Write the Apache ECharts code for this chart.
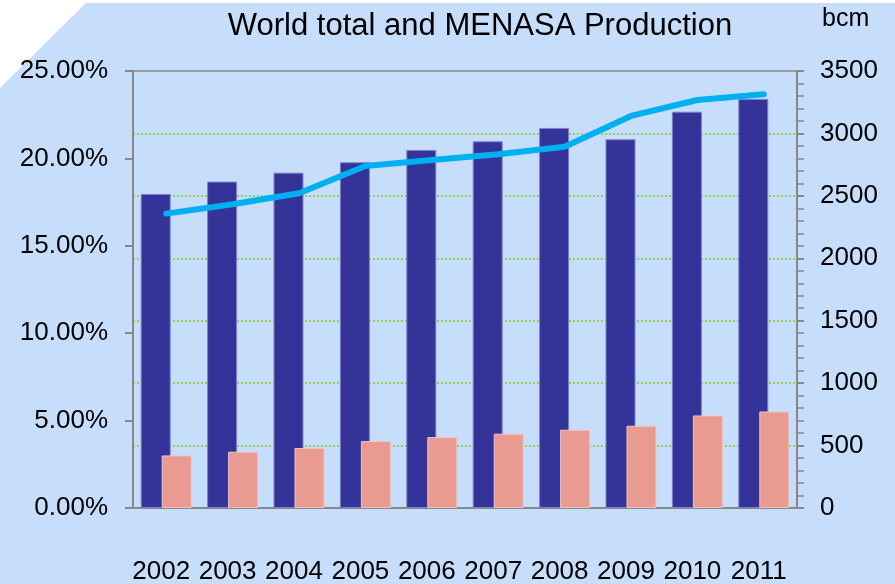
<!DOCTYPE html>
<html>
<head>
<meta charset="utf-8">
<script src="https://cdn.jsdelivr.net/npm/echarts@6/dist/echarts.min.js"></script>
<style>
html, body { margin: 0; padding: 0; background: #ffffff; }
#chart { width: 895px; height: 584px; }
</style>
</head>
<body>
<div id="chart"></div>
<script>
var years = ['2002','2003','2004','2005','2006','2007','2008','2009','2010','2011'];
// bcm, right axis
var worldTotal = [2515, 2614, 2686, 2769, 2868, 2937, 3044, 2953, 3174, 3276];
var menasa = [421, 451, 480, 536, 568, 595, 627, 659, 741, 773];
// share of MENASA in world total, left axis (%)
var share = [16.84, 17.38, 18.01, 19.57, 19.91, 20.24, 20.67, 22.43, 23.34, 23.67];

var font = 'Liberation Sans, Arial, sans-serif';
var grey = '#878787';

var myChart = echarts.init(document.getElementById('chart'));
var option = {
    animation: false,
    textStyle: {fontFamily: font},
    graphic: [
        {
            type: 'polygon',
            z: -10,
            silent: true,
            shape: {points: [[86, 3], [895, 3], [895, 584], [0, 584], [0, 88]]},
            style: {fill: '#c6ddfb'}
        },
        {
            type: 'text',
            left: 822,
            top: 7,
            style: {text: 'bcm', font: '25px ' + font, fill: '#000'}
        }
    ],
    title: {
        text: 'World total and MENASA Production',
        left: 475,
        textAlign: 'center',
        top: 6,
        textStyle: {fontSize: 31, fontWeight: 'normal', color: '#000', fontFamily: font}
    },
    grid: {
        left: 133, right: 98, top: 71, bottom: 76,
        outerBoundsMode: 'none',
        show: true, borderColor: grey, borderWidth: 1.5,
        backgroundColor: 'transparent'
    },
    xAxis: {
        type: 'category',
        data: years,
        axisLine: {lineStyle: {color: grey, width: 2}},
        axisTick: {alignWithLabel: true, length: 6, lineStyle: {color: grey, width: 2}},
        axisLabel: {color: '#000', fontSize: 26, margin: 51, interval: 0, padding: [0, 10, 0, 0]}
    },
    yAxis: [
        {
            type: 'value',
            min: 0, max: 25, interval: 5,
            axisLine: {show: true, lineStyle: {color: grey, width: 2}},
            axisTick: {show: true, length: 8, lineStyle: {color: grey, width: 2}},
            axisLabel: {
                color: '#000', fontSize: 26, margin: 25,
                formatter: function (v) { return v.toFixed(2) + '%'; }
            },
            splitLine: {show: false}
        },
        {
            type: 'value',
            min: 0, max: 3500, interval: 500,
            axisLine: {show: true, lineStyle: {color: grey, width: 2}},
            axisTick: {show: true, length: 7, lineStyle: {color: grey, width: 2}},
            minorTick: {show: true, splitNumber: 5, length: 7, lineStyle: {color: grey, width: 1.5}},
            axisLabel: {
                color: '#000', fontSize: 26, margin: 23,
                formatter: function (v) { return String(v); }
            },
            splitLine: {
                show: true, showMinLine: false, showMaxLine: false,
                lineStyle: {color: '#92d050', type: [2, 2], width: 2}
            }
        }
    ],
    series: [
        {
            name: 'World total',
            type: 'bar',
            yAxisIndex: 1,
            data: worldTotal,
            barWidth: 30,
            barGap: '-30%',
            itemStyle: {color: '#333399', borderColor: '#8080c8', borderWidth: 1}
        },
        {
            name: 'MENASA',
            type: 'bar',
            yAxisIndex: 1,
            data: menasa,
            barWidth: 30,
            itemStyle: {color: '#e99b91', borderColor: '#f2c4bd', borderWidth: 1}
        },
        {
            name: 'Share',
            type: 'line',
            yAxisIndex: 0,
            data: share,
            symbol: 'none',
            lineStyle: {color: '#00b0f0', width: 6, cap: 'round', join: 'round'},
            z: 5
        }
    ]
};
myChart.setOption(option);
</script>
</body>
</html>
